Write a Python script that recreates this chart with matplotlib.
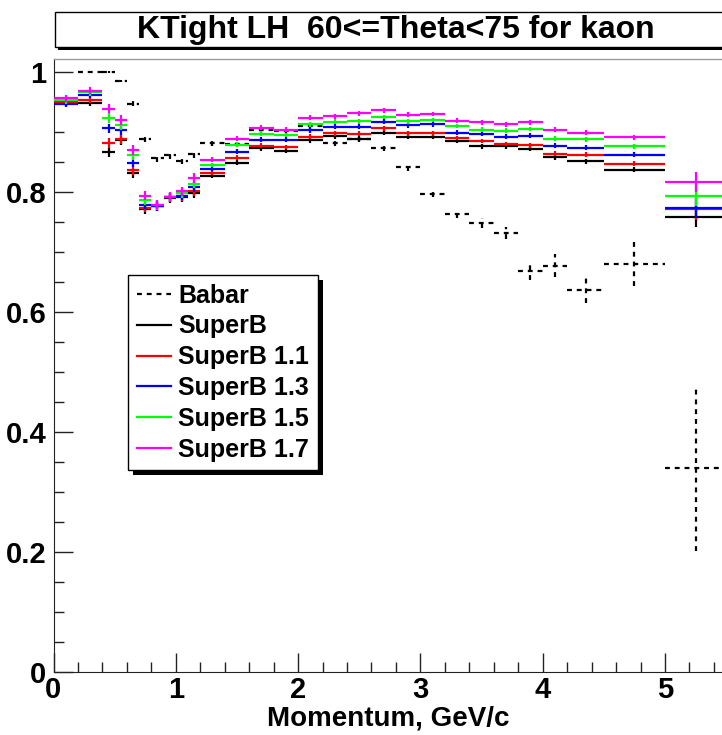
import matplotlib
matplotlib.use("Agg")
import matplotlib.pyplot as plt
from matplotlib.patches import Rectangle
from matplotlib.lines import Line2D
from matplotlib.ticker import MultipleLocator, FuncFormatter
import numpy as np

plt.rcParams['font.family'] = ['Liberation Sans', 'DejaVu Sans']
plt.rcParams['font.weight'] = 'bold'

# momentum bins (GeV/c)
bin_edges = [0.0, 0.2, 0.4, 0.5, 0.6, 0.7, 0.8, 0.9, 1.0, 1.1, 1.2, 1.4, 1.6, 1.8,
             2.0, 2.2, 2.4, 2.6, 2.8, 3.0, 3.2, 3.4, 3.6, 3.8, 4.0, 4.2, 4.5, 5.0, 5.5]

# efficiencies per bin
babar = [np.nan, 1.000, 1.000, 0.985, 0.947, 0.888, 0.856, 0.861, 0.852, 0.863,
         0.881, 0.880, 0.903, 0.902, 0.910, 0.881, 0.889, 0.873, 0.841, 0.797,
         0.764, 0.748, 0.731, 0.669, 0.677, 0.636, 0.680, 0.340]
babar_err = [0.0, 0.001, 0.001, 0.002, 0.004, 0.005, 0.006, 0.006, 0.006, 0.006,
             0.005, 0.005, 0.005, 0.005, 0.005, 0.005, 0.005, 0.005, 0.006, 0.006,
             0.007, 0.008, 0.010, 0.015, 0.019, 0.021, 0.036, 0.139]

superb = [0.949, 0.949, 0.866, 0.886, 0.831, 0.771, 0.776, 0.790, 0.791, 0.798,
          0.827, 0.849, 0.873, 0.869, 0.886, 0.893, 0.889, 0.899, 0.892, 0.892,
          0.885, 0.876, 0.876, 0.872, 0.858, 0.851, 0.837, 0.759]
superb_11 = [0.950, 0.954, 0.882, 0.888, 0.837, 0.774, 0.777, 0.791, 0.793, 0.802,
             0.832, 0.857, 0.877, 0.875, 0.892, 0.898, 0.897, 0.906, 0.898, 0.898,
             0.890, 0.885, 0.880, 0.878, 0.864, 0.862, 0.847, 0.771]
superb_13 = [0.947, 0.962, 0.906, 0.903, 0.849, 0.779, 0.777, 0.791, 0.794, 0.808,
             0.839, 0.867, 0.887, 0.887, 0.903, 0.909, 0.909, 0.917, 0.911, 0.913,
             0.899, 0.897, 0.892, 0.894, 0.877, 0.874, 0.862, 0.773]
superb_15 = [0.953, 0.966, 0.923, 0.912, 0.861, 0.786, 0.778, 0.791, 0.798, 0.814,
             0.845, 0.879, 0.897, 0.895, 0.913, 0.917, 0.918, 0.925, 0.918, 0.920,
             0.910, 0.904, 0.902, 0.905, 0.889, 0.888, 0.876, 0.793]
superb_17 = [0.956, 0.969, 0.939, 0.920, 0.870, 0.794, 0.779, 0.792, 0.801, 0.823,
             0.854, 0.889, 0.907, 0.904, 0.924, 0.926, 0.931, 0.936, 0.929, 0.930,
             0.919, 0.916, 0.913, 0.916, 0.904, 0.899, 0.891, 0.817]
superb_err = [0.006, 0.006, 0.008, 0.008, 0.008, 0.008, 0.008, 0.008, 0.008, 0.008,
              0.004, 0.004, 0.004, 0.004, 0.004, 0.004, 0.004, 0.004, 0.004, 0.004,
              0.004, 0.004, 0.004, 0.004, 0.004, 0.004, 0.004, 0.017]

labels = ["Babar", "SuperB", "SuperB 1.1", "SuperB 1.3", "SuperB 1.5", "SuperB 1.7"]
colors = ["black", "black", "#ff0000", "#0000ff", "#00ff00", "#ff00ff"]

title = "KTight LH  60<=Theta<75 for kaon"
xlabel = "Momentum, GeV/c"

W, H = 722, 735
fig = plt.figure(figsize=(W / 100, H / 100), dpi=100)
ax = fig.add_axes([53.5 / W, (H - 672) / H, 5.5 * 122.3 / W, (672 - 59) / H])
ax.set_xlim(0, 5.5)
ax.set_ylim(0, 1.0217)

edges = np.array(bin_edges)
centers = 0.5 * (edges[1:] + edges[:-1])
half = 0.5 * (edges[1:] - edges[:-1])

dash = (0, (2.2, 2.2))
lw = 1.6

# Babar drawn first with dashed error crosses
eb = ax.errorbar(centers, babar, xerr=half, yerr=babar_err, fmt='none',
                 ecolor='black', elinewidth=lw, zorder=2)
for lc in eb.lines[2]:
    lc.set_linestyle(dash)

series = [superb, superb_11, superb_13, superb_15, superb_17]
for i, vals in enumerate(series):
    ax.errorbar(centers, vals, xerr=half, yerr=superb_err, fmt='none',
                ecolor=colors[i + 1], elinewidth=lw, zorder=3 + i)

# axes styling
ax.xaxis.set_major_locator(MultipleLocator(1))
ax.xaxis.set_minor_locator(MultipleLocator(0.2))
ax.yaxis.set_major_locator(MultipleLocator(0.2))
ax.yaxis.set_minor_locator(MultipleLocator(0.05))
ax.yaxis.set_major_formatter(FuncFormatter(lambda v, p: "%g" % round(v, 2)))
ax.xaxis.set_major_formatter(FuncFormatter(lambda v, p: "%g" % round(v, 2)))
ax.tick_params(which='both', direction='in', top=False, right=False, color='#222222')
ax.tick_params(which='major', length=13.5, width=1.0, labelsize=21)
ax.tick_params(which='minor', length=7, width=1.0)
ax.tick_params(axis='y', pad=5)
ax.tick_params(axis='x', pad=3)
for lab in ax.get_xticklabels() + ax.get_yticklabels():
    lab.set_fontweight('bold')
ax.spines['top'].set_color('#999999')
ax.spines['top'].set_linewidth(1.0)
ax.spines['right'].set_visible(False)
ax.spines['left'].set_color('#222222')
ax.spines['bottom'].set_color('#222222')

fig.text(388 / W, 1 - 718 / H, xlabel, ha='center', va='center',
         fontsize=20, fontweight='bold')

# title box with shadow
bx0, by0, bx1, by1 = 55, 12, 760, 47
shadow = Rectangle(((bx0 + 3) / W, 1 - (by1 + 3) / H), (bx1 - bx0) / W, (by1 - by0) / H,
                   transform=fig.transFigure, facecolor='black', edgecolor='black', lw=0)
box = Rectangle((bx0 / W, 1 - by1 / H), (bx1 - bx0) / W, (by1 - by0) / H,
                transform=fig.transFigure, facecolor='white', edgecolor='black', lw=1.0)
fig.add_artist(shadow)
fig.add_artist(box)
fig.text(396 / W, 1 - 30 / H, title, ha='center', va='center',
         fontsize=23, fontweight='bold')

# legend
handles = [Line2D([], [], color='black', lw=lw, ls=dash)]
handles += [Line2D([], [], color=c, lw=lw) for c in colors[1:]]
leg = ax.legend(handles, labels, loc='upper left',
                bbox_to_anchor=(128 / W, 1 - 275 / H), bbox_transform=fig.transFigure,
                borderaxespad=0, frameon=True, fancybox=False, shadow=False,
                framealpha=1.0, facecolor='white',
                handlelength=1.35, handletextpad=0.3, labelspacing=0.27,
                borderpad=0.35, prop={'weight': 'bold', 'size': 18})
leg.get_frame().set_edgecolor('black')
leg.get_frame().set_linewidth(1.0)
leg.set_zorder(20)

# solid shadow behind the legend box
fig.canvas.draw()
bb = leg.get_window_extent()
inv = fig.transFigure.inverted()
(x0, y0), (x1, y1) = inv.transform([[bb.x0, bb.y0], [bb.x1, bb.y1]])
leg_shadow = Rectangle((x0 + 5 / W, y0 - 5 / H), x1 - x0, y1 - y0,
                       transform=fig.transFigure, facecolor='black', lw=0,
                       zorder=19, clip_on=False)
ax.add_artist(leg_shadow)

fig.savefig("out.png", dpi=100)
